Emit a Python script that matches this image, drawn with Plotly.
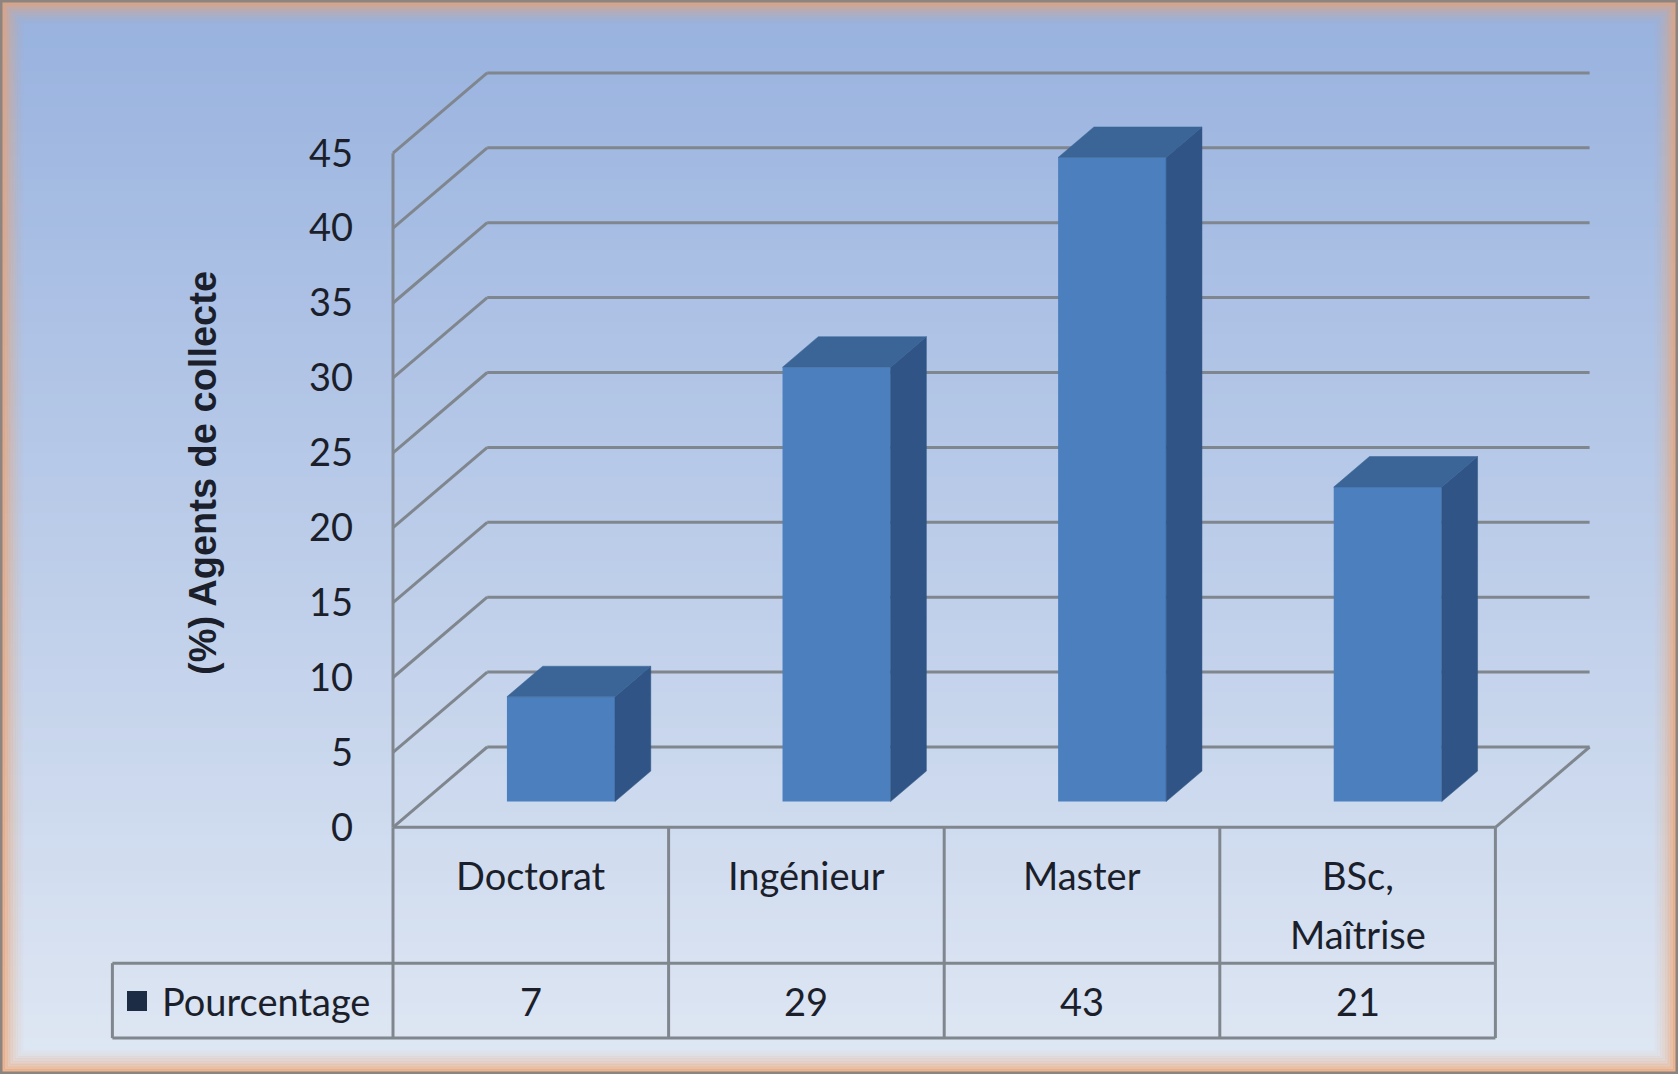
import plotly.graph_objects as go

# ---------------- data ----------------
categories = ["Doctorat", "Ingénieur", "Master", "BSc, Maîtrise"]
values = [7, 29, 43, 21]
series_name = "Pourcentage"
y_ticks = [0, 5, 10, 15, 20, 25, 30, 35, 40, 45]
y_title = "(%) Agents de collecte"

# ---------------- geometry (pixels of the 1678x1074 canvas) ----------------
W, H = 1678, 1074
X0_PX = 393.0      # front-left axis line
Y0_PX = 827.3      # value 0 on the front plane
CAT_PX = 275.6     # one category width
VAL_PX = 14.98     # one value unit
DDX = 94.2 / CAT_PX   # depth offset in x units
DDY = 80.3 / VAL_PX   # depth offset in value units

x_range = [-X0_PX / CAT_PX, (W - X0_PX) / CAT_PX]
y_range = [(Y0_PX - H) / VAL_PX, Y0_PX / VAL_PX]


def px_x(p):
    return (p - X0_PX) / CAT_PX


def px_y(p):
    return (Y0_PX - p) / VAL_PX


FRONT = "#4b7fbd"
SIDE = "#2f5485"
TOP = "#3a6596"
GRID = "#80868e"
TXT = "#1b1f2b"
FONT = "Lato, Carlito, 'Liberation Sans Narrow', Roboto, sans-serif"

n = len(categories)
ymax = max(y_ticks)

fig = go.Figure()

# ---------------- background gradient + frame ----------------
shapes = []
top_c = (152, 178, 223)
bot_c = (223, 231, 243)
nb = 90
for k in range(nb):
    t = k / (nb - 1)
    c = tuple(int(round(top_c[j] + (bot_c[j] - top_c[j]) * t)) for j in range(3))
    shapes.append(dict(type="rect", xref="paper", yref="paper", layer="below",
                       x0=0, x1=1, y0=1 - (k + 1) / nb - 0.002, y1=1 - k / nb,
                       fillcolor="rgb(%d,%d,%d)" % c, line_width=0))
# orange glow frame
glow = [0.70, 0.55, 0.42, 0.31, 0.22, 0.15, 0.09, 0.05]
for i, a in enumerate(glow):
    ins = 3.5 + i * 2.6
    shapes.append(dict(type="rect", xref="paper", yref="paper", layer="below",
                       x0=ins / W, x1=1 - ins / W, y0=ins / H, y1=1 - ins / H,
                       fillcolor="rgba(0,0,0,0)",
                       line=dict(color="rgba(238,160,105,%.2f)" % a, width=3)))
shapes.append(dict(type="rect", xref="paper", yref="paper", layer="below",
                   x0=1 / W, x1=1 - 1 / W, y0=1 / H, y1=1 - 1 / H,
                   fillcolor="rgba(0,0,0,0)", line=dict(color="#8d8480", width=3)))

# ---------------- 3-D walls ----------------
gl = dict(color=GRID, width=3)
for v in y_ticks:
    # back wall horizontal
    shapes.append(dict(type="line", xref="x", yref="y", layer="below",
                       x0=DDX, x1=n + DDX, y0=v + DDY, y1=v + DDY, line=gl))
    # side wall diagonal
    shapes.append(dict(type="line", xref="x", yref="y", layer="below",
                       x0=0, x1=DDX, y0=v, y1=v + DDY, line=gl))
# front-left vertical axis
shapes.append(dict(type="line", xref="x", yref="y", layer="below",
                   x0=0, x1=0, y0=0, y1=ymax, line=gl))
# floor front edge and right diagonal
shapes.append(dict(type="line", xref="x", yref="y", layer="below",
                   x0=0, x1=n, y0=0, y1=0, line=gl))
shapes.append(dict(type="line", xref="x", yref="y", layer="below",
                   x0=n, x1=n + DDX, y0=0, y1=DDY, line=gl))

# ---------------- data table ----------------
row1 = px_y(963.2)
row2 = px_y(1038.1)
leg_left = px_x(112.4)
for i in range(n + 1):
    shapes.append(dict(type="line", xref="x", yref="y", layer="below",
                       x0=i, x1=i, y0=0, y1=row2, line=gl))
shapes.append(dict(type="line", xref="x", yref="y", layer="below",
                   x0=leg_left, x1=n, y0=row1, y1=row1, line=gl))
shapes.append(dict(type="line", xref="x", yref="y", layer="below",
                   x0=leg_left, x1=n, y0=row2, y1=row2, line=gl))
shapes.append(dict(type="line", xref="x", yref="y", layer="below",
                   x0=leg_left, x1=leg_left, y0=row1, y1=row2, line=gl))

# ---------------- bars ----------------
F0 = 0.32   # depth position of the bar front
FD = 0.38   # bar depth (fraction of wall depth)
BW = 0.392  # bar width
base = F0 * DDY
xc = [i + 0.5 + F0 * DDX for i in range(n)]
dx, dy = FD * DDX, FD * DDY

fig.add_trace(go.Bar(x=xc, y=values, base=[base] * n, width=BW,
                     marker=dict(color=FRONT, line=dict(width=0)),
                     hoverinfo="skip", showlegend=False))

sx, sy, tx, ty = [], [], [], []
for c, v in zip(xc, values):
    xl, xr = c - BW / 2, c + BW / 2
    sx += [xr, xr + dx, xr + dx, xr, xr, None]
    sy += [base, base + dy, base + v + dy, base + v, base, None]
    tx += [xl, xr, xr + dx, xl + dx, xl, None]
    ty += [base + v, base + v, base + v + dy, base + v + dy, base + v, None]
fig.add_trace(go.Scatter(x=sx, y=sy, mode="lines", fill="toself", fillcolor=SIDE,
                         line=dict(width=0.5, color=SIDE), hoverinfo="skip", showlegend=False))
fig.add_trace(go.Scatter(x=tx, y=ty, mode="lines", fill="toself", fillcolor=TOP,
                         line=dict(width=0.5, color=TOP), hoverinfo="skip", showlegend=False))

# legend key in the table
fig.add_trace(go.Scatter(x=[px_x(137)], y=[px_y(1001)], mode="markers",
                         marker=dict(symbol="square", size=20, color="#1c2c44"),
                         hoverinfo="skip", showlegend=False))

# ---------------- texts ----------------
ann = []
fsz = 38
line1 = px_y(875.4)
line_step = (875.4 - 934.3) / VAL_PX
for i, cat in enumerate(categories):
    parts = cat.replace(", ", ",\n").split("\n")
    for j, p in enumerate(parts):
        ann.append(dict(x=i + 0.5, y=line1 + j * line_step, xref="x", yref="y",
                        text=p, showarrow=False, xanchor="center", yanchor="middle",
                        font=dict(family=FONT, size=fsz, color=TXT)))
for i, v in enumerate(values):
    ann.append(dict(x=i + 0.5, y=px_y(1000.6), xref="x", yref="y",
                    text=str(v), showarrow=False, xanchor="center", yanchor="middle",
                    font=dict(family=FONT, size=fsz, color=TXT)))
ann.append(dict(x=px_x(160), y=px_y(1000.6), xref="x", yref="y",
                text=series_name, showarrow=False, xanchor="left", yanchor="middle",
                font=dict(family=FONT, size=fsz, color=TXT)))
ann.append(dict(x=px_x(203), y=px_y(473), xref="x", yref="y", text=y_title,
                showarrow=False, textangle=-90, xanchor="center", yanchor="middle",
                font=dict(family="'Liberation Sans', Arial, sans-serif", size=38,
                          color=TXT, weight="bold")))

fig.update_layout(
    width=W, height=H,
    margin=dict(l=0, r=0, t=0, b=0),
    paper_bgcolor="#c4d2ea", plot_bgcolor="rgba(0,0,0,0)",
    shapes=shapes, annotations=ann,
    showlegend=False,
    xaxis=dict(range=x_range, visible=False, fixedrange=True),
    yaxis=dict(range=y_range, anchor="free", position=X0_PX / W,
               tickvals=y_ticks, ticktext=[str(t) for t in y_ticks],
               showgrid=False, zeroline=False, showline=False, ticks="",
               ticklabelstandoff=40,
               tickfont=dict(family=FONT, size=fsz, color=TXT), fixedrange=True),
)

fig.write_html("out.html", config={"displayModeBar": False},
               post_script="document.body.style.margin='0';document.body.style.overflow='hidden';")
